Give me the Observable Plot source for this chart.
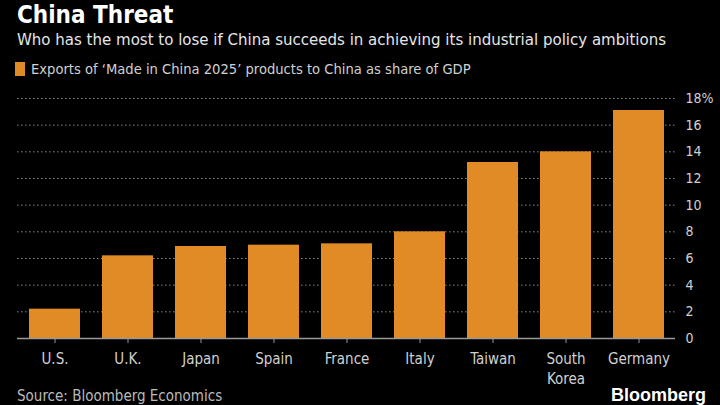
<!DOCTYPE html>
<html>
<head>
<meta charset="utf-8">
<script src="https://cdn.jsdelivr.net/npm/d3@7"></script>
<script src="https://cdn.jsdelivr.net/npm/@observablehq/plot@0.6"></script>
<style>
  html, body { margin: 0; padding: 0; background: #000; width: 720px; height: 405px; overflow: hidden; }
  body { position: relative; font-family: "Liberation Sans Narrow", "DejaVu Sans Condensed", "Roboto Condensed", sans-serif; color: #d9d9d9; }
  .abs { position: absolute; white-space: nowrap; line-height: 1.1; }
  #title { left: 17px; top: 2px; font-size: 24px; font-weight: bold; color: #fff; }
  #subtitle { left: 17px; top: 30px; font-size: 16.7px; color: #e6e6e6; }
  #legend { left: 15px; top: 61px; font-size: 14.6px; color: #d0d0d0; display: flex; align-items: center; }
  #legend .sw { width: 10px; height: 14px; background: #e08b26; margin-right: 6px; }
  #chart { left: 0; top: 85px; line-height: normal; }
  #source { left: 17px; top: 388px; font-size: 15px; color: #bbb; }
  #brand { right: 14px; top: 386px; font-size: 18px; font-weight: bold; color: #fff; font-family: "Liberation Sans", Arial, sans-serif; }
</style>
</head>
<body>
<div id="title" class="abs">China Threat</div>
<div id="subtitle" class="abs">Who has the most to lose if China succeeds in achieving its industrial policy ambitions</div>
<div id="legend" class="abs"><span class="sw"></span><span>Exports of ‘Made in China 2025’ products to China as share of GDP</span></div>
<div id="chart" class="abs"></div>
<div id="source" class="abs">Source: Bloomberg Economics</div>
<div id="brand" class="abs">Bloomberg</div>
<script>
const countries = ["U.S.", "U.K.", "Japan", "Spain", "France", "Italy", "Taiwan", "South\nKorea", "Germany"];
const shares = [2.2, 6.2, 6.9, 7.0, 7.1, 8.0, 13.2, 14.0, 17.1];
const yTicks = [0, 2, 4, 6, 8, 10, 12, 14, 16, 18];

const data = countries.map((c, i) => ({country: c, share: shares[i]}));
const font = "'Liberation Sans Narrow', 'DejaVu Sans Condensed', sans-serif";

const plot = Plot.plot({
  width: 720,
  height: 305,
  marginTop: 13,
  marginBottom: 52,
  marginLeft: 17,
  marginRight: 45,
  style: {background: "#000", color: "#d0d0d0", fontSize: "14px", fontFamily: font},
  x: {domain: countries, paddingInner: 0.306, paddingOuter: 0.136, label: null},
  y: {domain: [0, 18], label: null},
  marks: [
    Plot.gridY(yTicks.filter(d => d > 0), {stroke: "#8a8a8a", strokeOpacity: 1, strokeDasharray: "1.5,2.5", strokeWidth: 1}),
    Plot.barY(data, {x: "country", y: "share", fill: "#e08b26"}),
    Plot.ruleY([0], {stroke: "#9a9a9a", strokeWidth: 1.5}),
    Plot.axisX({tickSize: 5, tickPadding: 7, stroke: "#9a9a9a", fontSize: 15, lineHeight: 1.3, label: null, fill: "#d0d0d0"}),
    Plot.axisY({anchor: "right", ticks: yTicks, tickSize: 0, tickPadding: 10, fontSize: 14, label: null,
      tickFormat: d => d === 18 ? "18%" : String(d), fill: "#d0d0d0"})
  ]
});
document.getElementById("chart").appendChild(plot);
</script>
</body>
</html>
